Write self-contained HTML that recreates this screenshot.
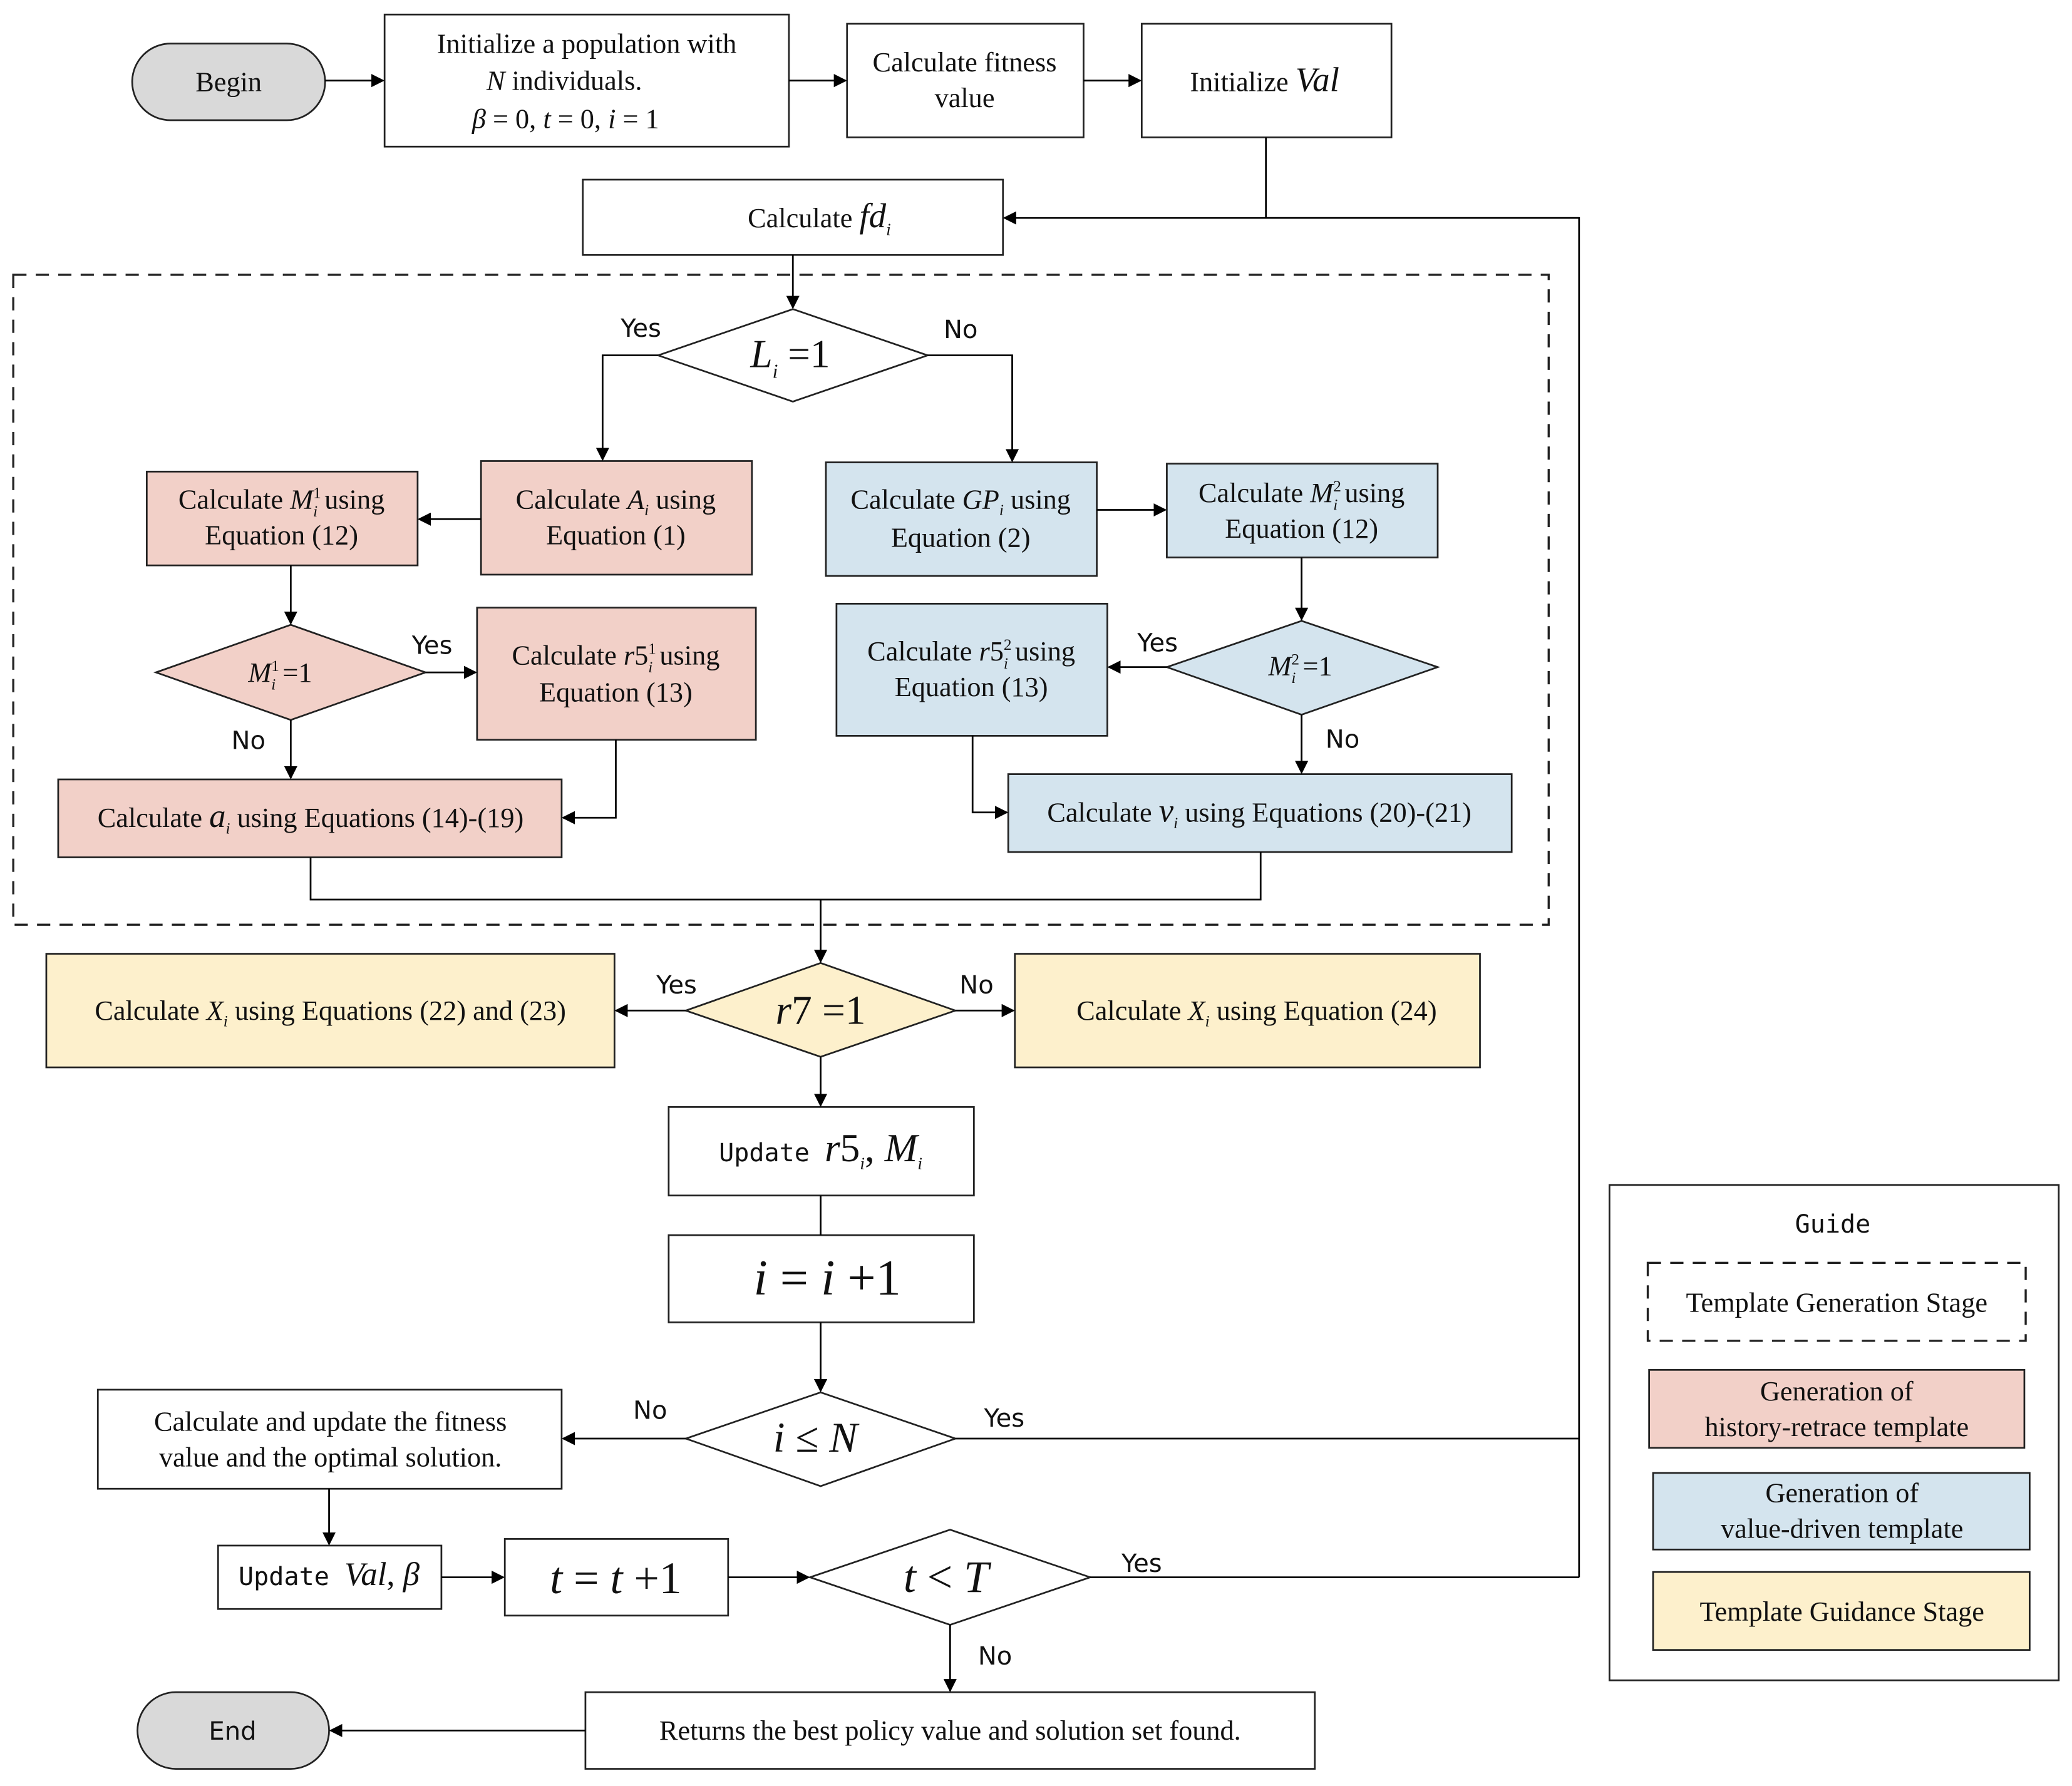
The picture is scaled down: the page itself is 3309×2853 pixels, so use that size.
<!DOCTYPE html>
<html><head><meta charset="utf-8"><style>
html,body{margin:0;padding:0;background:#fff}
svg{display:block}
text{font-family:"Liberation Serif",serif;fill:#111}
.lb{font-family:"DejaVu Sans","Liberation Sans",sans-serif;font-size:19px}
.m{font-style:italic}
.sm{font-family:"DejaVu Sans Mono","Liberation Mono",monospace;font-size:19px}
</style></head><body>
<svg width="3309" height="2853" viewBox="0 0 1568 1352" xmlns="http://www.w3.org/2000/svg">
<defs><marker id="a" markerWidth="10" markerHeight="10" refX="9" refY="5" orient="auto" markerUnits="userSpaceOnUse"><path d="M0,0 L10,5 L0,10 z" fill="#000"/></marker></defs>
<g stroke="#222" stroke-width="1.3" fill="#fff">
<rect x="100" y="33" width="146" height="58" rx="29" fill="#d9d9d9"/>
<rect x="291" y="11" width="306" height="100"/>
<rect x="641" y="18" width="179" height="86"/>
<rect x="864" y="18" width="189" height="86"/>
<rect x="441" y="136" width="318" height="57"/>
<rect x="10" y="208" width="1162" height="492" fill="none" stroke-dasharray="10,7" stroke-width="1.6"/>
<polygon points="498,269 600,234 702,269 600,304"/>
<rect x="364" y="349" width="205" height="86" fill="#f2d0c8"/>
<rect x="111" y="357" width="205" height="71" fill="#f2d0c8"/>
<rect x="625" y="350" width="205" height="86" fill="#d4e4ee"/>
<rect x="883" y="351" width="205" height="71" fill="#d4e4ee"/>
<polygon points="118,509 220,473 322,509 220,545" fill="#f2d0c8"/>
<rect x="361" y="460" width="211" height="100" fill="#f2d0c8"/>
<rect x="44" y="590" width="381" height="59" fill="#f2d0c8"/>
<polygon points="883,505 985,470 1088,505 985,541" fill="#d4e4ee"/>
<rect x="633" y="457" width="205" height="100" fill="#d4e4ee"/>
<rect x="763" y="586" width="381" height="59" fill="#d4e4ee"/>
<polygon points="519,765 621,729 723,765 621,800" fill="#fdf0cc"/>
<rect x="35" y="722" width="430" height="86" fill="#fdf0cc"/>
<rect x="768" y="722" width="352" height="86" fill="#fdf0cc"/>
<rect x="506" y="838" width="231" height="67"/>
<rect x="506" y="935" width="231" height="66"/>
<polygon points="519,1089 621,1054 723,1089 621,1125"/>
<rect x="74" y="1052" width="351" height="75"/>
<rect x="165" y="1170" width="169" height="48"/>
<rect x="382" y="1165" width="169" height="58"/>
<polygon points="613,1194 719,1158 825,1194 719,1230"/>
<rect x="443" y="1281" width="552" height="58"/>
<rect x="104" y="1281" width="145" height="58" rx="29" fill="#d9d9d9"/>
<rect x="1218" y="897" width="340" height="375"/>
<rect x="1247" y="956" width="286" height="59" fill="none" stroke-dasharray="10,7" stroke-width="1.6"/>
<rect x="1248" y="1037" width="284" height="59" fill="#f2d0c8"/>
<rect x="1251" y="1115" width="285" height="58" fill="#d4e4ee"/>
<rect x="1251" y="1190" width="285" height="59" fill="#fdf0cc"/>
</g>
<g stroke="#000" stroke-width="1.3" fill="none">
<path d="M246,61 H290" marker-end="url(#a)"/>
<path d="M597,61 H640" marker-end="url(#a)"/>
<path d="M820,61 H863" marker-end="url(#a)"/>
<path d="M958,104 V165 H1195 V1194"/>
<path d="M1195,165 H760" marker-end="url(#a)"/>
<path d="M600,193 V233" marker-end="url(#a)"/>
<path d="M498,269 H456 V348" marker-end="url(#a)"/>
<path d="M702,269 H766 V349" marker-end="url(#a)"/>
<path d="M364,393 H317" marker-end="url(#a)"/>
<path d="M830,386 H882" marker-end="url(#a)"/>
<path d="M220,428 V472" marker-end="url(#a)"/>
<path d="M322,509 H360" marker-end="url(#a)"/>
<path d="M220,545 V589" marker-end="url(#a)"/>
<path d="M466,560 V619 H426" marker-end="url(#a)"/>
<path d="M985,422 V469" marker-end="url(#a)"/>
<path d="M883,505 H839" marker-end="url(#a)"/>
<path d="M985,541 V585" marker-end="url(#a)"/>
<path d="M736,557 V615 H762" marker-end="url(#a)"/>
<path d="M235,649 V681 H954 V645"/>
<path d="M621,681 V728" marker-end="url(#a)"/>
<path d="M519,765 H466" marker-end="url(#a)"/>
<path d="M723,765 H767" marker-end="url(#a)"/>
<path d="M621,800 V837" marker-end="url(#a)"/>
<path d="M621,905 V935"/>
<path d="M621,1001 V1053" marker-end="url(#a)"/>
<path d="M519,1089 H426" marker-end="url(#a)"/>
<path d="M723,1089 H1195"/>
<path d="M249,1127 V1169" marker-end="url(#a)"/>
<path d="M334,1194 H381" marker-end="url(#a)"/>
<path d="M551,1194 H612" marker-end="url(#a)"/>
<path d="M825,1194 H1195"/>
<path d="M719,1230 V1280" marker-end="url(#a)"/>
<path d="M443,1310 H250" marker-end="url(#a)"/>
</g>
<g text-anchor="middle" font-size="21">
<text x="173" y="69">Begin</text>
<text x="444" y="40">Initialize a population with</text>
<text x="427" y="68"><tspan class="m">N</tspan>  individuals.</text>
<text x="428" y="97"><tspan class="m">β</tspan> = 0, <tspan class="m">t</tspan> = 0, <tspan class="m">i</tspan> = 1</text>
<text x="730" y="54">Calculate fitness</text>
<text x="730" y="81">value</text>
<text x="957" y="69">Initialize <tspan class="m" font-size="26">Val</tspan></text>
<text x="620" y="172">Calculate <tspan class="m" font-size="26">fd</tspan><tspan class="m" font-size="13" dy="6">i</tspan></text>
<text x="598" y="278" font-size="30"><tspan class="m">L</tspan><tspan class="m" font-size="15" dy="8">i</tspan><tspan dy="-8"> =1</tspan></text>
<text x="466" y="385">Calculate <tspan class="m">A</tspan><tspan class="m" font-size="12" dy="5">i</tspan><tspan dy="-5"> using</tspan></text>
<text x="466" y="412">Equation (1)</text>
<text x="213" y="385">Calculate <tspan class="m">M</tspan><tspan font-size="12" dy="-8">1</tspan><tspan font-size="12" dx="-6" dy="14" class="m">i</tspan><tspan dy="-6">  using</tspan></text>
<text x="213" y="412">Equation (12)</text>
<text x="727" y="385">Calculate <tspan class="m">GP</tspan><tspan class="m" font-size="12" dy="5">i</tspan><tspan dy="-5">  using</tspan></text>
<text x="727" y="414">Equation (2)</text>
<text x="985" y="380">Calculate <tspan class="m">M</tspan><tspan font-size="12" dy="-8">2</tspan><tspan font-size="12" dx="-6" dy="14" class="m">i</tspan><tspan dy="-6">  using</tspan></text>
<text x="985" y="407">Equation (12)</text>
<text x="212" y="516"><tspan class="m">M</tspan><tspan font-size="12" dy="-8">1</tspan><tspan font-size="12" dx="-6" dy="14" class="m">i</tspan><tspan dy="-6"> =1</tspan></text>
<text x="466" y="503">Calculate <tspan class="m">r</tspan>5<tspan font-size="12" dy="-8">1</tspan><tspan font-size="12" dx="-6" dy="14" class="m">i</tspan><tspan dy="-6">  using</tspan></text>
<text x="466" y="531">Equation (13)</text>
<text x="735" y="500">Calculate <tspan class="m">r</tspan>5<tspan font-size="12" dy="-8">2</tspan><tspan font-size="12" dx="-6" dy="14" class="m">i</tspan><tspan dy="-6">  using</tspan></text>
<text x="735" y="527">Equation (13)</text>
<text x="984" y="511"><tspan class="m">M</tspan><tspan font-size="12" dy="-8">2</tspan><tspan font-size="12" dx="-6" dy="14" class="m">i</tspan><tspan dy="-6"> =1</tspan></text>
<text x="235" y="626">Calculate <tspan class="m" font-size="25">a</tspan><tspan class="m" font-size="12" dy="5">i</tspan><tspan dy="-5">  using Equations (14)-(19)</tspan></text>
<text x="953" y="622">Calculate  <tspan class="m" font-size="25">v</tspan><tspan class="m" font-size="12" dy="5">i</tspan><tspan dy="-5"> using Equations (20)-(21)</tspan></text>
<text x="621" y="775" font-size="31"><tspan class="m">r</tspan>7 =1</text>
<text x="250" y="772">Calculate <tspan class="m">X</tspan><tspan class="m" font-size="12" dy="5">i</tspan><tspan dy="-5"> using Equations (22) and (23)</tspan></text>
<text x="951" y="772">Calculate <tspan class="m">X</tspan><tspan class="m" font-size="12" dy="5">i</tspan><tspan dy="-5"> using Equation (24)</tspan></text>
<text x="621" y="879"><tspan class="sm">Update </tspan><tspan class="m" font-size="30">r</tspan><tspan font-size="30">5</tspan><tspan class="m" font-size="13" dy="6">i</tspan><tspan font-size="30" dy="-6">, </tspan><tspan class="m" font-size="30">M</tspan><tspan class="m" font-size="13" dy="6">i</tspan></text>
<text x="626" y="980" font-size="38"><tspan class="m">i</tspan> = <tspan class="m">i</tspan> +1</text>
<text x="617" y="1099" font-size="32"><tspan class="m">i</tspan> ≤ <tspan class="m">N</tspan></text>
<text x="250" y="1083">Calculate and update the fitness</text>
<text x="250" y="1110">value and the optimal solution.</text>
<text x="249" y="1200"><tspan class="sm">Update </tspan><tspan class="m" font-size="25">Val</tspan><tspan font-size="25">, </tspan><tspan class="m" font-size="25">β</tspan></text>
<text x="466" y="1206" font-size="34"><tspan class="m">t</tspan> = <tspan class="m">t</tspan> +1</text>
<text x="716" y="1205" font-size="34"><tspan class="m">t</tspan> &lt; <tspan class="m">T</tspan></text>
<text x="719" y="1317">Returns the best policy value and solution set found.</text>
<text x="176" y="1317" class="lb">End</text>
<text x="1387" y="933" class="sm">Guide</text>
<text x="1390" y="993">Template Generation Stage</text>
<text x="1390" y="1060">Generation of</text>
<text x="1390" y="1087">history-retrace template</text>
<text x="1394" y="1137">Generation of</text>
<text x="1394" y="1164">value-driven template</text>
<text x="1394" y="1227">Template Guidance Stage</text>
<text x="485" y="255" class="lb">Yes</text>
<text x="727" y="256" class="lb">No</text>
<text x="327" y="495" class="lb">Yes</text>
<text x="188" y="567" class="lb">No</text>
<text x="876" y="493" class="lb">Yes</text>
<text x="1016" y="566" class="lb">No</text>
<text x="512" y="752" class="lb">Yes</text>
<text x="739" y="752" class="lb">No</text>
<text x="492" y="1074" class="lb">No</text>
<text x="760" y="1080" class="lb">Yes</text>
<text x="864" y="1190" class="lb">Yes</text>
<text x="753" y="1260" class="lb">No</text>
</g>
</svg>
</body></html>
